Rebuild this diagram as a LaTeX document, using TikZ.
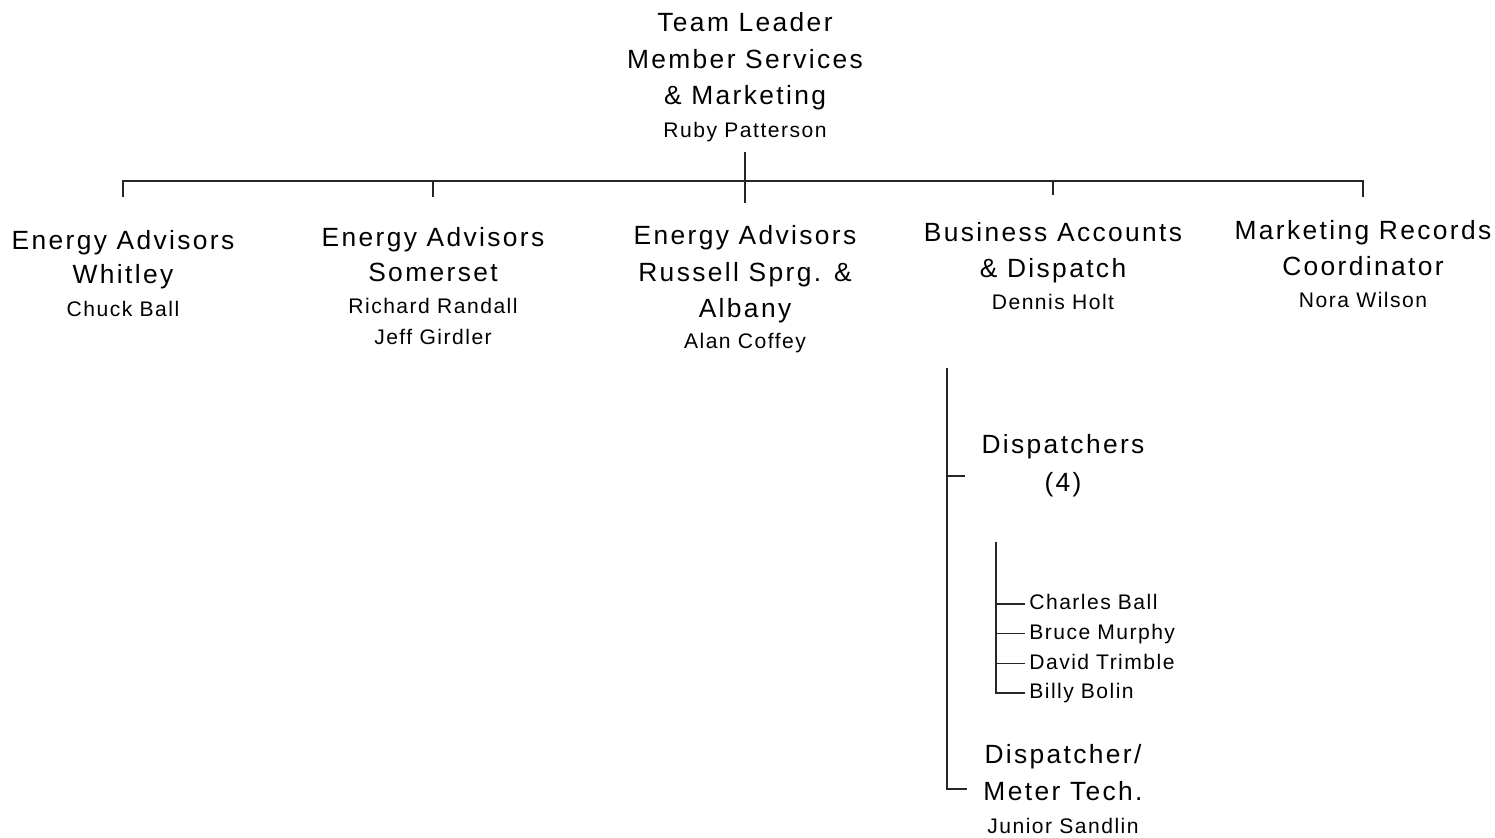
\documentclass[tikz,border=0pt]{standalone}
\usepackage{fontspec}
\setmainfont{Liberation Sans}
\newfontfamily\titlefont{Liberation Sans}[LetterSpace=9]
\newfontfamily\namefamily{Liberation Sans}[LetterSpace=7]
\newcommand\titlesize{\titlefont\fontsize{15}{21}\selectfont}
\newcommand\namesize{\namefamily\fontsize{12}{17.5}\selectfont}
\usetikzlibrary{positioning}
\tikzset{
  unit/.style={
    align=center,
    font=\titlesize,
    inner sep=1pt},
  member/.style={
    font=\namesize,
    text width=3.6cm,
    text height=9pt,
    text depth=2.5pt,
    align=left,
    inner sep=0pt},
  link/.style={draw=black!85, line width=0.9pt},
  branch/.style={link, shorten >=8pt},
}
\begin{document}
\begin{tikzpicture}[x=0.02cm, y=-0.02cm]
  \useasboundingbox (0,0) rectangle (1495,838);
  % head of the team
  \node[unit, anchor=north] (ldr) at (745,10) {Team Leader\\Member Services\\\& Marketing\\[-2.7pt]{\namesize Ruby Patterson}};
  % second row
  \node[unit, anchor=north] (whit) at (123,228) {Energy Advisors\\[-1.6pt]Whitley\\[-2.2pt]{\namesize Chuck Ball}};
  \node[unit, anchor=north] (soms) at (433,225) {Energy Advisors\\[-1pt]Somerset\\[-2.7pt]{\namesize Richard Randall}\\[-3.4pt]{\namesize Jeff Girdler}};
  \node[unit, anchor=north] (russ) at (745,223) {Energy Advisors\\Russell Sprg. \&\\Albany\\[-3.7pt]{\namesize Alan Coffey}};
  \node[unit, anchor=north] (busi) at (1053,220) {Business Accounts\\[-0.5pt]\& Dispatch\\[-2.7pt]{\namesize Dennis Holt}};
  \node[unit, anchor=north] (mrc) at (1363,218) {Marketing Records\\[-0.5pt]Coordinator\\[-2.7pt]{\namesize Nora Wilson}};
  % bus
  \coordinate (hub) at (745,181);
  \coordinate (hubend) at (745,203);
  \coordinate (w) at (123,197);
  \coordinate (s) at (433,197);
  \coordinate (b) at (1053,195);
  \coordinate (m) at (1363,197);
  \draw[link, shorten <=4.5pt] (ldr) -- (hubend);
  \draw[link] (w) |- (hub) -| (m);
  \foreach \c in {s,b}
    \draw[link] (\c) -- (\c |- hub);
  % dispatch
  \coordinate (dtop) at (947,368);
  \node[unit, anchor=north] (disp) at (1063,432) {Dispatchers\\[1pt](4)};
  \node[unit, anchor=north] (dmt) at (1063,742) {Dispatcher/\\Meter Tech.\\[-2pt]{\namesize Junior Sandlin}};
  \coordinate (dtap) at ([yshift=-6pt]disp.west);
  \draw[branch] (dtop) |- (dmt.west);
  \draw[branch] (dtop |- dtap) -- (dtap);
  % dispatchers by name
  \node[member, anchor=west] (cb) at (1029,604) {Charles Ball};
  \node[member, on grid, below=0.594cm of cb] (bm) {Bruce Murphy};
  \node[member, on grid, below=0.594cm of bm] (dt) {David Trimble};
  \node[member, on grid, below=0.594cm of dt] (bb) {Billy Bolin};
  \coordinate (crew) at (996,542);
  \draw[link, shorten >=2pt] (crew) |- (bb.west);
  \foreach \n in {cb,bm,dt}
    \draw[link, shorten >=2pt] (crew |- \n.west) -- (\n.west);
\end{tikzpicture}
\end{document}
